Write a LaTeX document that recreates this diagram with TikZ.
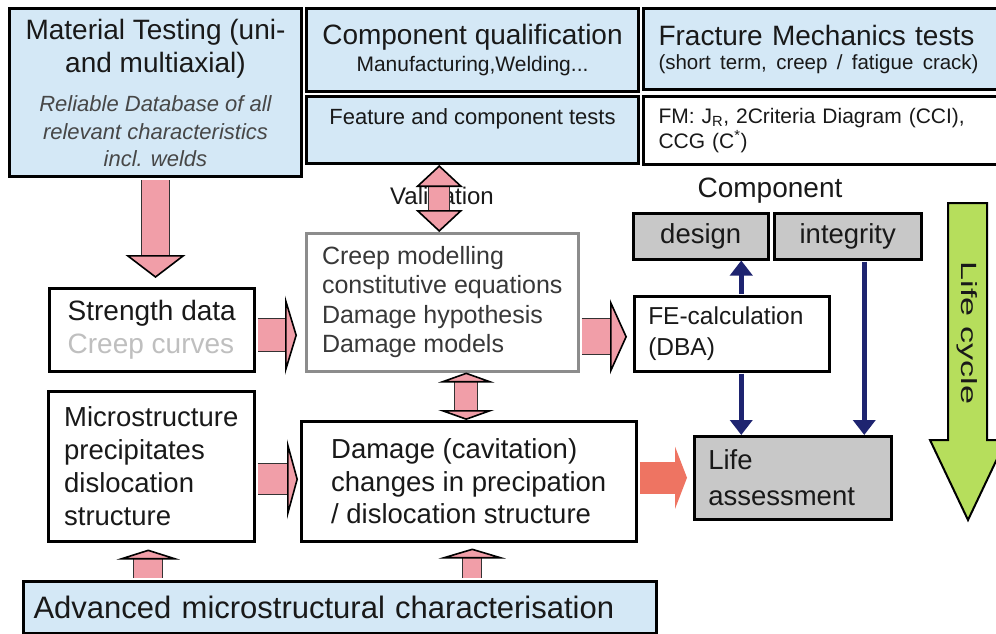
\documentclass[tikz,border=0pt]{standalone}
\usepackage{fontspec}
\setmainfont{Liberation Sans}
\usetikzlibrary{arrows.meta}
\definecolor{boxblue}{RGB}{212,232,246}
\definecolor{boxgray}{RGB}{200,200,200}
\definecolor{arrowpink}{RGB}{241,158,168}
\definecolor{arrowred}{RGB}{238,116,98}
\definecolor{darknavy}{RGB}{30,36,112}
\definecolor{cyclegreen}{RGB}{182,222,92}
\newcommand{\fsz}[2]{\fontsize{#1}{#2}\selectfont}
\newcommand{\smit}{\fontsize{22}{27}\selectfont\itshape\color{black!72}}

\begin{document}
\begin{tikzpicture}[x=1pt, y=-1pt,
  box/.style={draw, line width=2.5pt, anchor=north west, inner sep=0pt, text=black!90},
  bluebox/.style={box, fill=boxblue, line width=3pt},
  graybox/.style={box, fill=boxgray},
  fat/.style n args={3}{double=arrowpink, double distance=#1, line width=1pt, draw=black!80,
    arrows={-Triangle[width=#2, length=#3, fill=arrowpink, color=black, line width=1.6pt]}},
  twofat/.style n args={3}{double=arrowpink, double distance=#1, line width=1pt, draw=black!80,
    arrows={Triangle[width=#2, length=#3, fill=arrowpink, color=black, line width=1.6pt]-Triangle[width=#2, length=#3, fill=arrowpink, color=black, line width=1.6pt]}},
  link/.style={draw=darknavy, line width=5pt, arrows={-Triangle[width=22pt, length=15pt]}}]

\path[use as bounding box, fill=white] (0,0) rectangle (996,634);

\node[bluebox, minimum width=292pt, minimum height=168pt, align=center, font=\fsz{28}{33}] (mat) at (8,7)
  {Material Testing (uni-\\and multiaxial)\\[6pt]\smit Reliable Database of all\\[-5pt]\smit relevant characteristics\\[-6pt]\smit incl. welds};
\node[bluebox, minimum width=332pt, minimum height=83pt, align=center, font=\fsz{28}{27}] (qual) at (305,7)
  {Component qualification\\\fsz{21}{27}Manufacturing,Welding...};
\node[bluebox, minimum width=332pt, minimum height=67pt, font=\fsz{22}{26}, text height=16pt, text depth=28pt] (feat) at (305,95)
  {Feature and component tests};
\node[bluebox, minimum width=370pt, minimum height=81pt, text width=340pt, align=left, font=\fsz{28}{24}] (frac) at (642,7)
  {Fracture Mechanics tests\\\fsz{20.5}{24}(short term, creep / fatigue crack)};
\node[box, line width=3pt, fill=white, minimum width=370pt, minimum height=68pt, text width=340pt, align=left, font=\fsz{21}{25}] (fm) at (642,95)
  {FM: J\textsubscript{R}, 2Criteria Diagram (CCI),\\CCG (C\textsuperscript{*})};

\node[box, minimum width=205pt, minimum height=83pt, align=left, font=\fsz{28}{33}] (str) at (48,287)
  {Strength data\\\color{black!25}Creep curves};
\node[box, draw=black!45, text=black!78, minimum width=272pt, minimum height=138pt, align=left, font=\fsz{25}{29.5}] (creep) at (305,232)
  {Creep modelling\\constitutive equations\\Damage hypothesis\\Damage models};
\node[box, minimum width=206pt, minimum height=150pt, align=left, font=\fsz{27.5}{33}] (micro) at (47,390)
  {Microstructure\\precipitates\\dislocation\\structure};
\node[box, minimum width=335pt, minimum height=120pt, align=left, font=\fsz{27.5}{32.5}] (dam) at (300,420)
  {Damage (cavitation)\\changes in precipation\\/ dislocation structure};
\node[bluebox, minimum width=633pt, minimum height=52pt, text width=613pt, align=left, font=\fsz{31}{36}] (adv) at (22,580)
  {Advanced microstructural characterisation};

\node[box, minimum width=195pt, minimum height=75pt, text width=167pt, align=left, font=\fsz{24.5}{31}] (fe) at (633,295)
  {FE-calculation\\(DBA)};
\node[graybox, minimum width=135pt, minimum height=46pt, font=\fsz{27.5}{30}] (design) at (632,212) {design};
\node[graybox, minimum width=147pt, minimum height=46pt, font=\fsz{27.5}{30}] (integ) at (773,212) {integrity};
\node[graybox, minimum width=197pt, minimum height=83pt, text width=169pt, align=left, font=\fsz{27.5}{36}] (life) at (693,435)
  {Life\\assessment};
\node[font=\fsz{28}{30}, text=black!90] (comp) at (770,191) {Component};
\node[font=\fsz{24}{28}, text=black!90] (valid) at (442,196) {Validation};

\draw[line width=2pt, fill=cyclegreen] (948,203) -- (987,203) -- (987,440) -- (1006,440) -- (968,520) -- (930,440) -- (948,440) -- cycle;
\node[rotate=-90, font=\fsz{22}{26}, text=black!90] (cycle) at (967.5,333) {\scalebox{1.55}[1]{Life cycle}};

\coordinate (mstr) at ([yshift=-5.5pt]str.east);
\coordinate (mfe) at ([yshift=-3pt]fe.west);
\coordinate (mdam) at ([yshift=2pt]dam.west);
\coordinate (mval) at ([xshift=-3pt]creep.north);
\coordinate (mcd) at ([xshift=-2.5pt]dam.north);
\coordinate (mmi) at ([xshift=-3pt]micro.south);
\coordinate (mda) at ([xshift=3.5pt]dam.south);
\coordinate (fex) at ([xshift=9.5pt]fe.north);
\coordinate (fey) at ([xshift=9.5pt]fe.south);
\coordinate (intx) at ([xshift=16.5pt]integ.south);

\draw[fat={27pt}{60pt}{23pt}, shorten <=2pt, shorten >=9pt] (mat.south) -- (mat.south |- str.north);
\draw[fat={32pt}{79pt}{12pt}, shorten <=2pt, shorten >=8pt] (mstr) -- (mstr -| creep.west);
\draw[fat={35pt}{75pt}{17pt}, shorten <=2pt, shorten >=6pt] (mfe -| creep.east) -- (mfe);
\draw[fat={30pt}{80pt}{11pt}, shorten <=2pt, shorten >=2pt] (mdam -| micro.east) -- (mdam);
\draw[draw=arrowred, line width=32pt, arrows={-Triangle[width=62pt, length=12pt]}, shorten <=2pt, shorten >=6pt] (life.west -| dam.east) -- (life.west);
\draw[twofat={20pt}{47pt}{22pt}] (mval |- feat.south) -- (mval);
\draw[twofat={22pt}{56pt}{10pt}] (mcd |- creep.south) -- (mcd);
\draw[fat={28pt}{63pt}{10pt}, shorten <=2pt, shorten >=7pt] (mmi |- adv.north) -- (mmi);
\draw[fat={18pt}{67pt}{10pt}, shorten <=2pt, shorten >=6pt] (mda |- adv.north) -- (mda);

\draw[link, shorten <=1pt] (fex) -- (fex |- design.south);
\draw[link, shorten <=1pt] (fey) -- (fey |- life.north);
\draw[link, shorten <=1pt] (intx) -- (intx |- life.north);
\end{tikzpicture}
\end{document}
